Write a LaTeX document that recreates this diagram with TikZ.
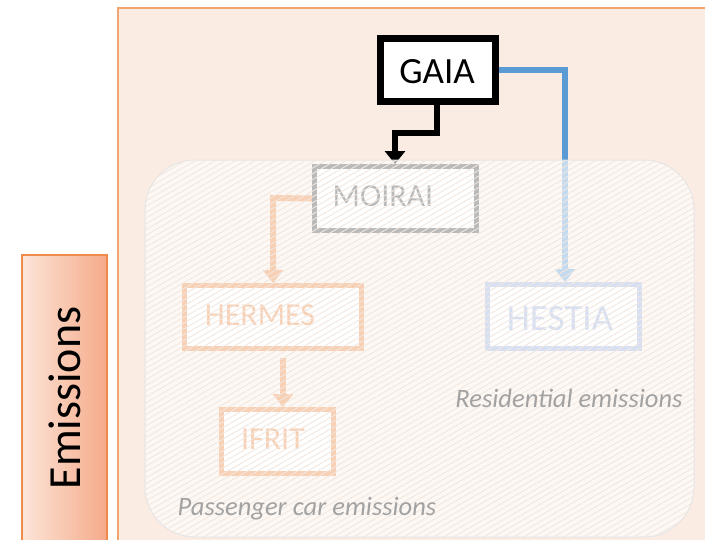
\documentclass[tikz,border=0pt]{standalone}
\usepackage{fontspec}
\setmainfont{Carlito}
\usetikzlibrary{arrows.meta,patterns.meta,calc}
\definecolor{panelfill}{HTML}{FBECE3}
\definecolor{panelline}{HTML}{F2A46E}
\definecolor{emL}{HTML}{FCE5D8}
\definecolor{emR}{HTML}{F5AA89}
\definecolor{emline}{HTML}{EE8A4C}
\definecolor{oblue}{HTML}{5B9BD5}
\definecolor{hblue}{HTML}{8FAADC}
\definecolor{oorange}{HTML}{ED7D31}
\definecolor{mgray}{HTML}{404040}
\definecolor{lbl}{HTML}{A2A2A2}
\definecolor{hatch}{HTML}{F1E7E1}
\tikzset{
  modbox/.style={draw, line width=5pt, fill=white, inner sep=0pt},
  boxtext/.style={font=\fontsize{32}{32}\selectfont, inner sep=0pt},
  conn/.style={line width=6pt},
  tip/.style={-{Triangle[width=20pt,length=13pt]}},
  region/.style={font=\fontsize{26.5}{26.5}\selectfont\itshape, text=lbl, inner sep=0pt}
}
\begin{document}
\begin{tikzpicture}[x=1pt,y=-1pt]
\useasboundingbox (0,0) rectangle (705,539);
\clip (0,0) rectangle (705,539);
% panel and side label
\draw[fill=panelfill, draw=panelline, line width=1.5pt] (118,8) rectangle (720,560);
\draw[left color=emL, right color=emR, draw=emline, line width=1.2pt] (22,255) rectangle (107,560);
\node[rotate=90, font=\fontsize{46}{46}\selectfont, inner sep=0pt] (emis) at (65,398) {Emissions};
% inner boxes (faded by overlay)
\node[modbox, draw=mgray, minimum width=162pt, minimum height=64pt] (moirai) at (395.5,198.5) {};
\node[modbox, draw=oorange, minimum width=177pt, minimum height=63pt] (hermes) at (273,317) {};
\node[modbox, draw=oorange, minimum width=112pt, minimum height=64pt] (ifrit) at (277.5,441.5) {};
\node[modbox, draw=hblue, minimum width=152pt, minimum height=64pt] (hestia) at (563.5,316.5) {};
\node[boxtext, text=mgray] (moiraiT) at (383,196) {MOIRAI};
\node[boxtext, text=oorange] (hermesT) at (260,315) {HERMES};
\node[boxtext, text=oorange] (ifritT) at (273,439) {IFRIT};
\node[boxtext, text=hblue, font=\fontsize{37}{37}\selectfont] (hestiaT) at (560,319) {HESTIA};
% GAIA
\node[draw, line width=7pt, fill=white, minimum width=115pt, minimum height=63pt, inner sep=0pt] (gaia) at (438,70) {};
\node[font=\fontsize{37}{37}\selectfont, inner sep=0pt] (gaiaT) at (437,72) {GAIA};
% connectors
\coordinate (g1) at (437,102);
\coordinate (hstart) at (283,358);
\draw[conn, tip, black] (g1) -- (437,133) -- (395,133) -- (moirai.north -| 395,0);
\draw[conn, tip, oblue] (gaia.east) -- (565,70) -- (hestia.north -| 565,0);
\draw[conn, tip, oorange] (moirai.west) -- (273,198) -- (hermes.north);
\draw[conn, tip, oorange] (hstart) -- (ifrit.north -| hstart);
% overlay region
\draw[fill=white, fill opacity=0.64, draw=black!10, line width=1pt, rounded corners=50pt] (145,160) rectangle (694,537);
\fill[pattern={Lines[angle=30, distance=5pt, line width=0.9pt]}, pattern color=hatch, fill opacity=0.8, rounded corners=50pt] (145,160) rectangle (694,537);
\node[region] (resid) at (569,398) {Residential emissions};
\node[region] (pass) at (307,509) {Passenger car emissions};
\end{tikzpicture}
\end{document}
